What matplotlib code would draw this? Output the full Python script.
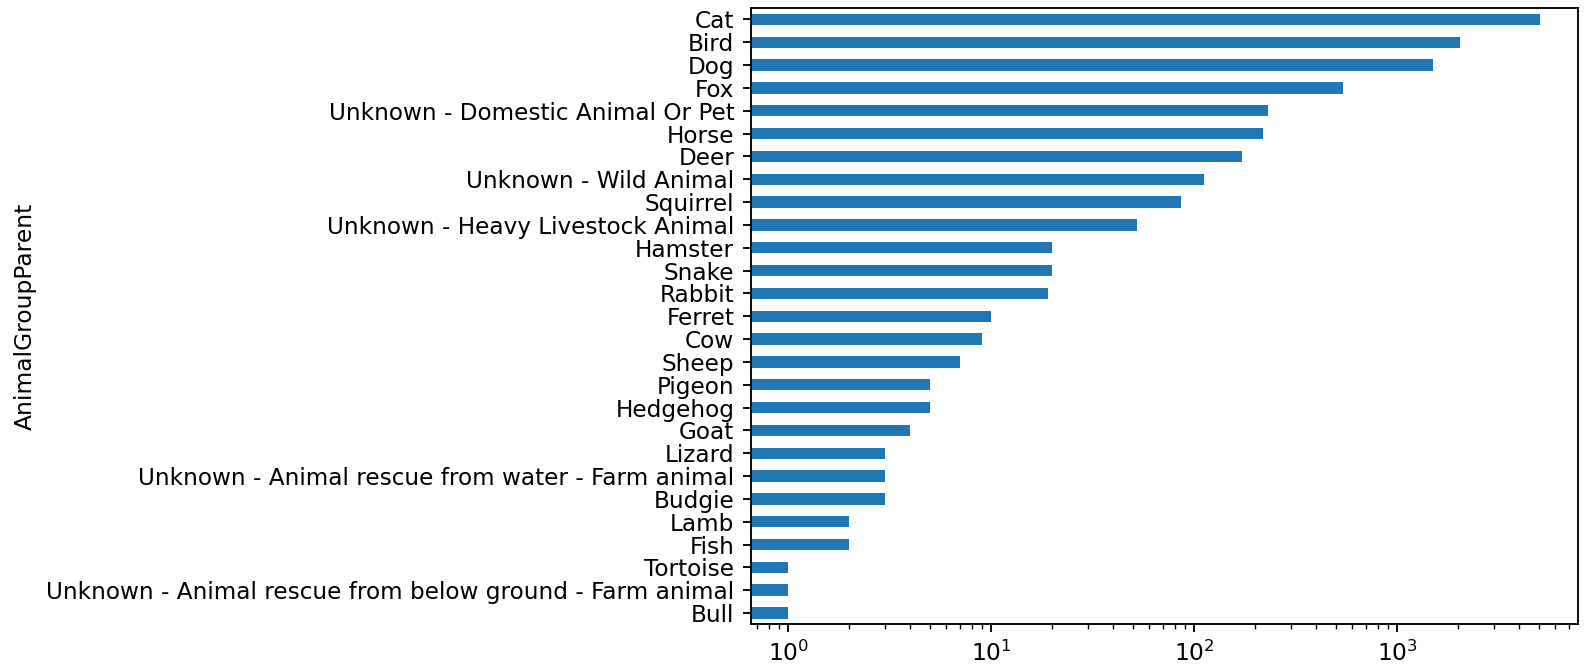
import matplotlib
matplotlib.use("Agg")
import matplotlib.pyplot as plt
import pandas as pd

# ---- Data (bottom to top, as pandas barh draws them) ----
animals = [
    "Bull",
    "Unknown - Animal rescue from below ground - Farm animal",
    "Tortoise",
    "Fish",
    "Lamb",
    "Budgie",
    "Unknown - Animal rescue from water - Farm animal",
    "Lizard",
    "Goat",
    "Hedgehog",
    "Pigeon",
    "Sheep",
    "Cow",
    "Ferret",
    "Rabbit",
    "Snake",
    "Hamster",
    "Unknown - Heavy Livestock Animal",
    "Squirrel",
    "Unknown - Wild Animal",
    "Deer",
    "Horse",
    "Unknown - Domestic Animal Or Pet",
    "Fox",
    "Dog",
    "Bird",
    "Cat",
]
counts = [1, 1, 1, 2, 2, 3, 3, 3, 4, 5, 5, 7, 9, 10, 19, 20, 20,
          52, 86, 112, 171, 218, 231, 542, 1504, 2043, 5060]

s = pd.Series(counts, index=pd.Index(animals, name="AnimalGroupParent"))

# original looks like a default-styled figure rendered at ~1.68x resolution
DPI = 168
fig, ax = plt.subplots(figsize=(1585 / DPI, 670 / DPI), dpi=DPI)
s.plot.barh(ax=ax, logx=True)
ax.tick_params(axis="y", labelsize=9.9)

fig.subplots_adjust(left=0.4736, right=0.9954, top=0.988, bottom=0.068)
fig.savefig("out.png", dpi=DPI)
